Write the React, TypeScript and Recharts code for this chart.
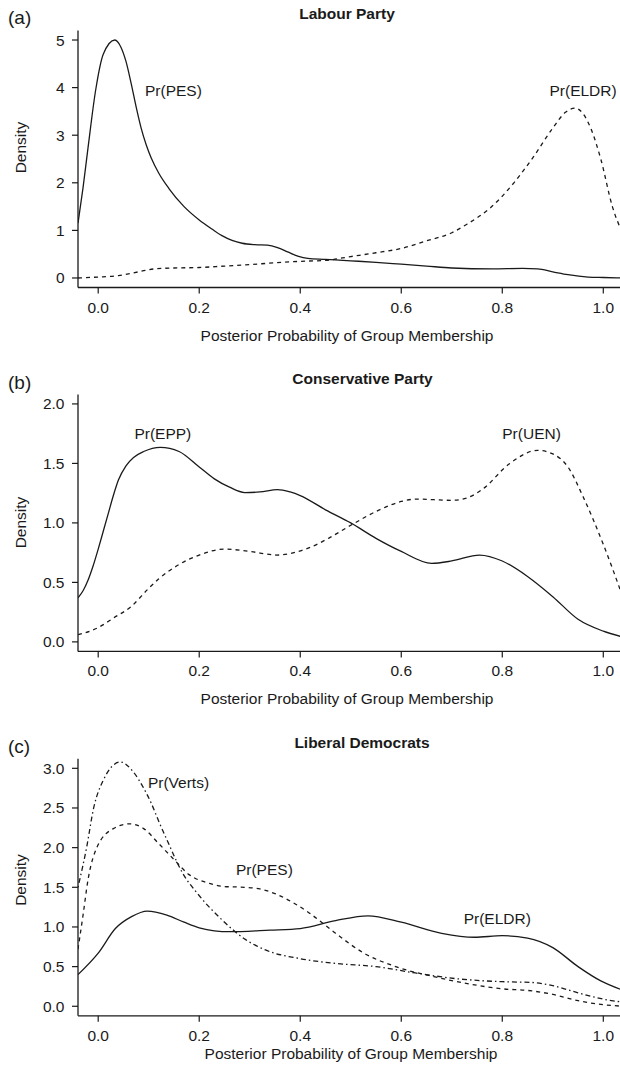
import { LineChart, Line, XAxis, YAxis, ReferenceDot, Label } from 'recharts'

type Pt = [number, number]

const INK = '#1a1a1a'
const FONT = '"Liberation Sans", Arial, Helvetica, sans-serif'

const xDomain = [-0.04, 1.04]
const xTicks = [0, 0.2, 0.4, 0.6, 0.8, 1.0]

// (a) Labour Party
const labourPes: Pt[] = [
  [-0.04, 1.15], [-0.03, 1.9], [-0.02, 2.75], [-0.005, 3.95], [0.01, 4.7], [0.033, 5.0],
  [0.045, 4.85], [0.055, 4.55], [0.065, 4.1], [0.075, 3.6], [0.085, 3.15], [0.095, 2.8],
  [0.105, 2.52], [0.12, 2.2], [0.14, 1.88], [0.17, 1.5], [0.2, 1.22], [0.225, 1.03],
  [0.245, 0.89], [0.265, 0.79], [0.285, 0.73], [0.31, 0.7], [0.335, 0.69], [0.355, 0.64],
  [0.375, 0.55], [0.395, 0.46], [0.415, 0.41], [0.45, 0.39], [0.5, 0.36], [0.55, 0.33],
  [0.6, 0.29], [0.65, 0.25], [0.7, 0.21], [0.78, 0.19], [0.84, 0.2], [0.87, 0.19],
  [0.9, 0.13], [0.93, 0.07], [0.97, 0.02], [1.0, 0.01], [1.04, 0.0],
]
const labourEldr: Pt[] = [
  [-0.04, 0.0], [0.0, 0.02], [0.04, 0.05], [0.08, 0.13], [0.11, 0.19], [0.15, 0.21],
  [0.2, 0.22], [0.25, 0.25], [0.3, 0.28], [0.35, 0.32], [0.4, 0.35], [0.45, 0.37],
  [0.5, 0.45], [0.55, 0.53], [0.6, 0.62], [0.65, 0.78], [0.7, 0.95], [0.73, 1.13],
  [0.776, 1.47], [0.823, 2.0], [0.862, 2.55], [0.9, 3.15], [0.925, 3.48], [0.944, 3.57],
  [0.96, 3.45], [0.975, 3.15], [0.995, 2.5], [1.018, 1.5], [1.04, 0.9],
]

// (b) Conservative Party
const consEpp: Pt[] = [
  [-0.04, 0.37], [-0.03, 0.43], [-0.02, 0.52], [-0.01, 0.64], [0.0, 0.78], [0.01, 0.93],
  [0.02, 1.08], [0.03, 1.23], [0.04, 1.36], [0.055, 1.48], [0.07, 1.55], [0.09, 1.6],
  [0.123, 1.635], [0.16, 1.6], [0.2, 1.47], [0.23, 1.37], [0.26, 1.3], [0.29, 1.255],
  [0.32, 1.26], [0.355, 1.28], [0.38, 1.26], [0.4, 1.23], [0.45, 1.11], [0.5, 1.0],
  [0.55, 0.87], [0.6, 0.76], [0.66, 0.66], [0.7, 0.68], [0.755, 0.73], [0.8, 0.68],
  [0.85, 0.55], [0.9, 0.38], [0.95, 0.19], [1.0, 0.09], [1.04, 0.04],
]
const consUen: Pt[] = [
  [-0.04, 0.06], [0.0, 0.12], [0.03, 0.2], [0.066, 0.3], [0.1, 0.45], [0.12, 0.53],
  [0.16, 0.65], [0.2, 0.73], [0.25, 0.78], [0.3, 0.76], [0.354, 0.73], [0.417, 0.79],
  [0.46, 0.88], [0.5, 0.98], [0.557, 1.11], [0.6, 1.18], [0.63, 1.2], [0.7, 1.19],
  [0.73, 1.21], [0.76, 1.28], [0.815, 1.5], [0.87, 1.61], [0.9, 1.58], [0.93, 1.47],
  [0.96, 1.22], [1.0, 0.82], [1.04, 0.36],
]

// (c) Liberal Democrats
const libEldr: Pt[] = [
  [-0.04, 0.4], [0.0, 0.67], [0.034, 0.98], [0.066, 1.13], [0.097, 1.2], [0.136, 1.15],
  [0.17, 1.06], [0.2, 0.99], [0.26, 0.94], [0.34, 0.96], [0.4, 0.98], [0.47, 1.08],
  [0.534, 1.14], [0.6, 1.06], [0.68, 0.92], [0.745, 0.87], [0.8, 0.89], [0.85, 0.86],
  [0.9, 0.74], [0.95, 0.5], [0.995, 0.32], [1.04, 0.2],
]
const libPes: Pt[] = [
  [-0.04, 0.72], [-0.03, 1.15], [-0.02, 1.6], [-0.002, 2.01], [0.03, 2.24], [0.062, 2.3],
  [0.09, 2.24], [0.12, 2.05], [0.15, 1.85], [0.18, 1.66], [0.22, 1.55], [0.25, 1.51],
  [0.29, 1.5], [0.32, 1.48], [0.35, 1.42], [0.385, 1.31], [0.417, 1.18], [0.47, 0.92],
  [0.526, 0.67], [0.589, 0.5], [0.667, 0.37], [0.745, 0.27], [0.8, 0.22], [0.85, 0.2],
  [0.9, 0.15], [0.95, 0.07], [1.0, 0.02], [1.04, 0.0],
]
const libVerts: Pt[] = [
  [-0.04, 1.5], [-0.023, 2.0], [-0.009, 2.5], [0.01, 2.85], [0.044, 3.08], [0.07, 2.95],
  [0.09, 2.75], [0.105, 2.56], [0.12, 2.33], [0.136, 2.1], [0.167, 1.68], [0.198, 1.41],
  [0.245, 1.09], [0.292, 0.84], [0.331, 0.71], [0.4, 0.6], [0.47, 0.54], [0.55, 0.5],
  [0.628, 0.42], [0.706, 0.35], [0.8, 0.31], [0.86, 0.3], [0.9, 0.26], [0.95, 0.17],
  [1.0, 0.09], [1.04, 0.05],
]

const DASHED = '4 4'
const DOTDASH = '1.5 3 5 3'

type Series = { pts: Pt[]; dash?: string }
type Note = { text: string; x: number; y: number }

interface PanelProps {
  top: number
  height: number
  marginTop: number
  yDomain: number[]
  yTicks: number[]
  yDigits: number
  series: Series[]
  notes: Note[]
  densityY: number
  xLabelX: number
  xLabelY: number
}

const toRows = (pts: Pt[]) => pts.map(([x, y]) => ({ x, y }))

const textStyle = { fill: INK, fontSize: 15.5, fontFamily: FONT }

const Panel = (p: PanelProps) => (
  <div style={{ position: 'absolute', left: 0, top: p.top }}>
    <LineChart width={640} height={p.height} margin={{ top: p.marginTop, right: 16.5, bottom: 0, left: 0 }}>
      <XAxis
        xAxisId="top"
        orientation="top"
        type="number"
        dataKey="x"
        domain={xDomain}
        allowDataOverflow
        height={0}
        tick={false}
        tickLine={false}
        axisLine={{ stroke: INK, strokeWidth: 1.3 }}
      />
      <XAxis
        type="number"
        dataKey="x"
        domain={xDomain}
        ticks={xTicks}
        interval={0}
        allowDataOverflow
        height={p.height - p.marginTop - 257}
        tickFormatter={(v: number) => v.toFixed(1)}
        tick={textStyle}
        tickMargin={8}
        tickLine={{ stroke: INK, strokeWidth: 1.2 }}
        axisLine={{ stroke: INK, strokeWidth: 1.3 }}
      >
        <Label
          content={() => (
            <text x={p.xLabelX} y={p.xLabelY} textAnchor="middle" dominantBaseline="central" {...textStyle}>
              Posterior Probability of Group Membership
            </text>
          )}
        />
      </XAxis>
      <YAxis
        type="number"
        domain={p.yDomain}
        ticks={p.yTicks}
        interval={0}
        allowDataOverflow
        width={78}
        tickFormatter={(v: number) => v.toFixed(p.yDigits)}
        tick={textStyle}
        tickMargin={7.5}
        tickLine={{ stroke: INK, strokeWidth: 1.2 }}
        axisLine={{ stroke: INK, strokeWidth: 1.3 }}
      >
        <Label
          content={() => (
            <text
              x={20}
              y={p.densityY}
              transform={`rotate(-90 20 ${p.densityY})`}
              textAnchor="middle"
              dominantBaseline="central"
              {...textStyle}
            >
              Density
            </text>
          )}
        />
      </YAxis>
      {p.series.map((s, i) => (
        <Line
          key={i}
          data={toRows(s.pts)}
          dataKey="y"
          type="monotone"
          stroke={INK}
          strokeWidth={1.3}
          strokeDasharray={s.dash}
          dot={false}
          activeDot={false}
          isAnimationActive={false}
        />
      ))}
      {p.notes.map((n) => (
        <ReferenceDot
          key={n.text}
          x={n.x}
          y={n.y}
          r={0}
          fill="none"
          stroke="none"
          label={{ value: n.text, position: 'center', ...textStyle }}
        />
      ))}
    </LineChart>
  </div>
)

const Title = ({ text, cx, cy }: { text: string; cx: number; cy: number }) => (
  <div
    style={{
      position: 'absolute',
      left: cx,
      top: cy - 8,
      transform: 'translateX(-50%)',
      fontFamily: FONT,
      fontWeight: 'bold',
      fontSize: 15.5,
      lineHeight: '16px',
      color: INK,
      whiteSpace: 'nowrap',
    }}
  >
    {text}
  </div>
)

const Tag = ({ text, cy }: { text: string; cy: number }) => (
  <div
    style={{
      position: 'absolute',
      left: 8,
      top: cy - 10,
      fontFamily: FONT,
      fontSize: 19,
      lineHeight: '20px',
      color: INK,
    }}
  >
    {text}
  </div>
)

export default function App() {
  return (
    <div
      style={{
        position: 'absolute',
        left: 0,
        top: 0,
        width: 620,
        height: 1073,
        overflow: 'hidden',
        background: '#fff',
      }}
    >
      <Panel
        top={0}
        height={348}
        marginTop={30.5}
        yDomain={[-0.2, 5.2]}
        yTicks={[0, 1, 2, 3, 4, 5]}
        yDigits={0}
        series={[{ pts: labourPes }, { pts: labourEldr, dash: DASHED }]}
        notes={[
          { text: 'Pr(PES)', x: 0.149, y: 3.94 },
          { text: 'Pr(ELDR)', x: 0.96, y: 3.94 },
        ]}
        densityY={147.5}
        xLabelX={347}
        xLabelY={335}
      />
      <Panel
        top={350}
        height={357}
        marginTop={44.4}
        yDomain={[-0.08, 2.08]}
        yTicks={[0, 0.5, 1, 1.5, 2]}
        yDigits={1}
        series={[{ pts: consEpp }, { pts: consUen, dash: DASHED }]}
        notes={[
          { text: 'Pr(EPP)', x: 0.128, y: 1.75 },
          { text: 'Pr(UEN)', x: 0.858, y: 1.75 },
        ]}
        densityY={172.5}
        xLabelX={347}
        xLabelY={348.3}
      />
      <Panel
        top={710}
        height={357}
        marginTop={48.8}
        yDomain={[-0.12, 3.12]}
        yTicks={[0, 0.5, 1, 1.5, 2, 2.5, 3]}
        yDigits={1}
        series={[{ pts: libEldr }, { pts: libPes, dash: DASHED }, { pts: libVerts, dash: DOTDASH }]}
        notes={[
          { text: 'Pr(Verts)', x: 0.159, y: 2.82 },
          { text: 'Pr(PES)', x: 0.329, y: 1.72 },
          { text: 'Pr(ELDR)', x: 0.79, y: 1.11 },
        ]}
        densityY={170}
        xLabelX={351}
        xLabelY={343.3}
      />
      <Title text="Labour Party" cx={347} cy={14} />
      <Title text="Conservative Party" cx={362.5} cy={379.3} />
      <Title text="Liberal Democrats" cx={362} cy={742.7} />
      <Tag text="(a)" cy={18} />
      <Tag text="(b)" cy={383.3} />
      <Tag text="(c)" cy={746.7} />
    </div>
  )
}
